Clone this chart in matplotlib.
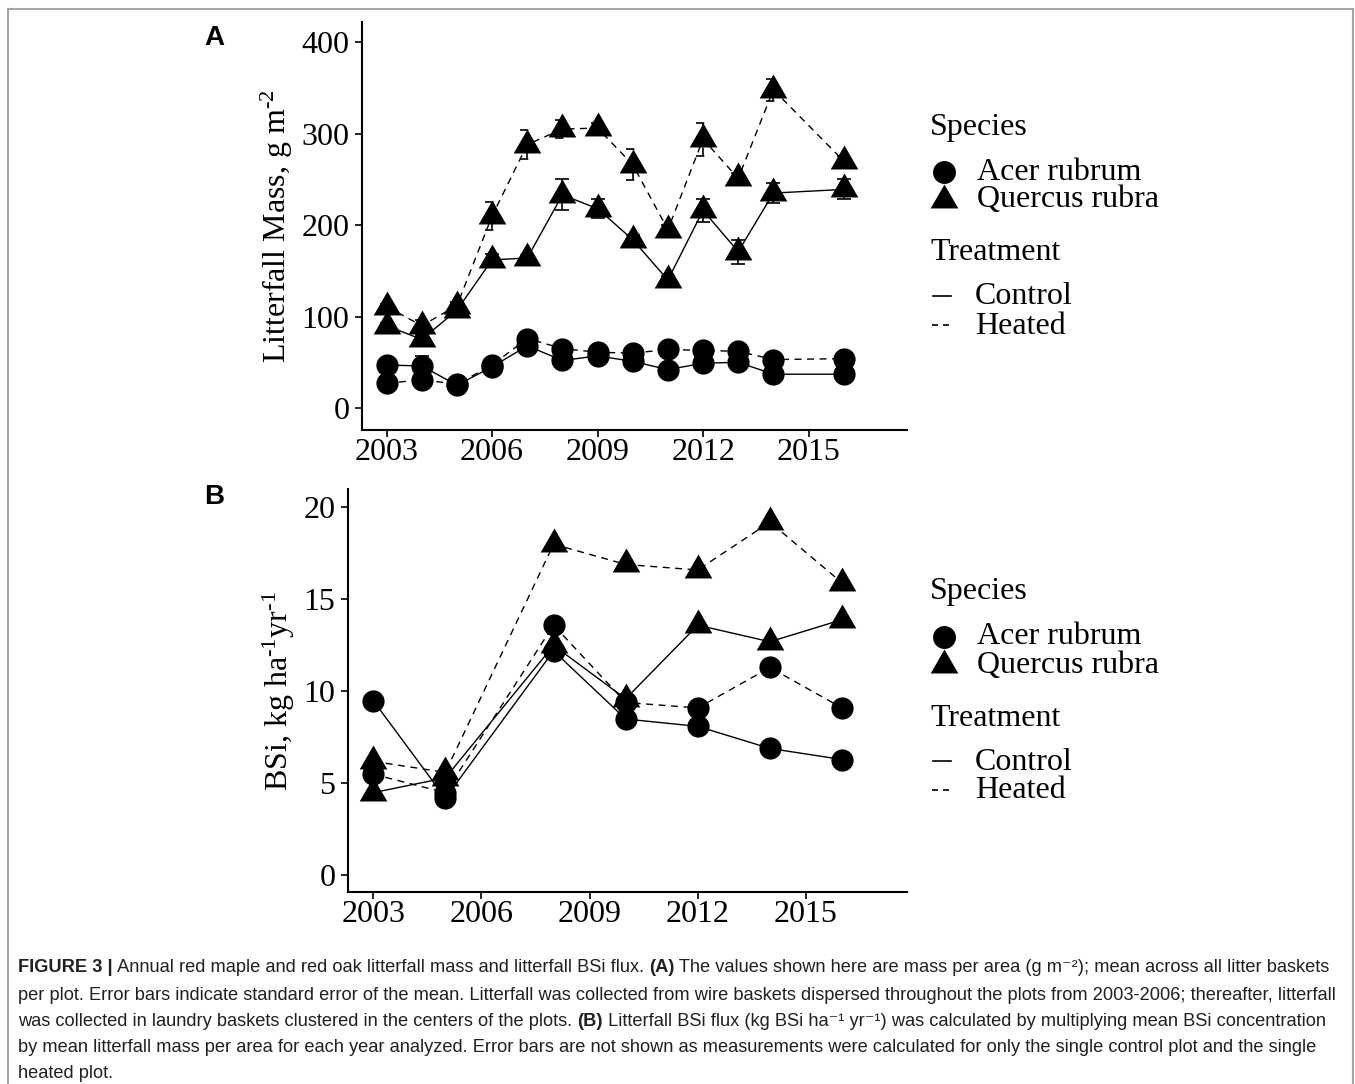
import matplotlib
matplotlib.use("Agg")
import matplotlib.pyplot as plt
from matplotlib.lines import Line2D
import numpy as np

# panel A: litterfall mass (g m-2), mean and standard error
years_a = [2003, 2004, 2005, 2006, 2007, 2008, 2009, 2010, 2011, 2012, 2013, 2014, 2016]
acer_ctrl_a = [47, 46, 25, 45, 68, 52, 57, 51, 42, 49, 50, 37, 37]
acer_ctrl_se = [4, 11, 3, 4, 4, 4, 3, 3, 3, 3, 3, 3, 3]
acer_heat_a = [27, 31, 26, 47, 76, 65, 61, 60, 64, 63, 62, 53, 54]
acer_heat_se = [3, 3, 3, 3, 4, 4, 3, 3, 3, 3, 3, 3, 3]
quer_ctrl_a = [90, 75, 107, 162, 164, 233, 218, 184, 140, 216, 171, 235, 239]
quer_ctrl_se = [3, 5, 4, 6, 3, 17, 10, 5, 4, 13, 13, 11, 11]
quer_heat_a = [111, 90, 112, 210, 288, 305, 306, 266, 195, 294, 251, 348, 270]
quer_heat_se = [3, 6, 4, 15, 16, 10, 6, 17, 5, 18, 6, 12, 5]

# panel B: BSi flux (kg ha-1 yr-1)
years_b = [2003, 2005, 2008, 2010, 2012, 2014, 2016]
acer_ctrl_b = [9.5, 4.2, 12.2, 8.5, 8.1, 6.9, 6.3]
acer_heat_b = [5.5, 4.5, 13.6, 9.4, 9.1, 11.3, 9.1]
quer_ctrl_b = [4.5, 5.3, 12.5, 9.6, 13.6, 12.7, 13.9]
quer_heat_b = [6.2, 5.6, 18.0, 16.9, 16.6, 19.2, 15.9]

xticks = [2003, 2006, 2009, 2012, 2015]
yticks_a = [0, 100, 200, 300, 400]
yticks_b = [0, 5, 10, 15, 20]

plt.rcParams['font.family'] = 'Liberation Serif'
plt.rcParams['mathtext.fontset'] = 'custom'
plt.rcParams['mathtext.rm'] = 'Liberation Serif'
plt.rcParams['mathtext.it'] = 'Liberation Serif:italic'

W, H = 1355, 1084
fig = plt.figure(figsize=(W / 100, H / 100), dpi=100)


def fx(px):
    return px / W


def fy(py):
    return 1 - py / H


DASH = (0, (5, 4))
FS = 23
CIRC = 16
TRI = 23
# equilateral triangle, centred on its centroid (like ggplot shape 17)
TRI_MARK = [(-1, -0.577), (1, -0.577), (0, 1.155), (-1, -0.577)]


def series(ax, x, y, se, marker, ms, dashed):
    ls = DASH if dashed else '-'
    ax.plot(x, y, color='black', lw=1.0, ls=ls, zorder=2)
    ax.plot(x, y, ls='none', marker=marker, ms=ms, color='black',
            markeredgewidth=0, zorder=3)
    if se is not None:
        x = np.array(x, dtype=float)
        y = np.array(y, dtype=float)
        se = np.array(se, dtype=float)
        ax.vlines(x, y - se, y + se, color='black', lw=1.2, linestyles=ls, zorder=4)
        ax.hlines(y + se, x - 0.2, x + 0.2, color='black', lw=1.2, linestyles=ls, zorder=4)
        ax.hlines(y - se, x - 0.2, x + 0.2, color='black', lw=1.2, linestyles=ls, zorder=4)


def style(ax, yticks, ylim):
    ax.set_xlim(2002.3, 2017.8)
    ax.set_ylim(*ylim)
    ax.set_xticks(xticks)
    ax.set_yticks(yticks)
    for s in ['top', 'right']:
        ax.spines[s].set_visible(False)
    for s in ['left', 'bottom']:
        ax.spines[s].set_linewidth(1.5)
    ax.tick_params(labelsize=FS, length=5, width=1.2, colors='black')
    ax.tick_params(axis='x', pad=1)
    ax.tick_params(axis='y', pad=4)


# panel A
ax_a = fig.add_axes([fx(362), fy(430), fx(907) - fx(362), (430 - 22) / H])
series(ax_a, years_a, acer_ctrl_a, acer_ctrl_se, 'o', CIRC, False)
series(ax_a, years_a, acer_heat_a, acer_heat_se, 'o', CIRC, True)
series(ax_a, years_a, quer_ctrl_a, quer_ctrl_se, TRI_MARK, TRI, False)
series(ax_a, years_a, quer_heat_a, quer_heat_se, TRI_MARK, TRI, True)
style(ax_a, yticks_a, (-24, 422))
ax_a.set_ylabel(r'Litterfall Mass, g m$^{\text{-2}}$', fontsize=FS, labelpad=5)

# panel B
ax_b = fig.add_axes([fx(348), fy(892), fx(907) - fx(348), (892 - 489) / H])
series(ax_b, years_b, acer_ctrl_b, None, 'o', CIRC, False)
series(ax_b, years_b, acer_heat_b, None, 'o', CIRC, True)
series(ax_b, years_b, quer_ctrl_b, None, TRI_MARK, TRI, False)
series(ax_b, years_b, quer_heat_b, None, TRI_MARK, TRI, True)
style(ax_b, yticks_b, (-0.9, 21.0))
ax_b.set_ylabel(r'BSi, kg ha$^{\text{-1}}$yr$^{\text{-1}}$', fontsize=FS, labelpad=5)

fig.text(fx(204), fy(38), 'A', family='Liberation Sans', weight='bold', fontsize=20, va='center')
fig.text(fx(204), fy(497), 'B', family='Liberation Sans', weight='bold', fontsize=20, va='center')


# legends
def legend(top):
    fig.text(fx(930), fy(top), 'Species', fontsize=FS, va='center')
    fig.add_artist(Line2D([fx(944)], [fy(top + 45)], marker='o', ms=16.5, color='black',
                          markeredgewidth=0, transform=fig.transFigure))
    fig.add_artist(Line2D([fx(944)], [fy(top + 73)], marker=TRI_MARK, ms=TRI, color='black',
                          markeredgewidth=0, transform=fig.transFigure))
    fig.text(fx(977), fy(top + 45), 'Acer rubrum', fontsize=FS, va='center')
    fig.text(fx(977), fy(top + 73), 'Quercus rubra', fontsize=FS, va='center')
    fig.text(fx(930), fy(top + 126), 'Treatment', fontsize=FS, va='center')
    fig.add_artist(Line2D([fx(933), fx(951)], [fy(top + 169)] * 2, color='black', lw=1.2,
                          transform=fig.transFigure))
    fig.add_artist(Line2D([fx(932), fx(953)], [fy(top + 198)] * 2, color='black', lw=1.2,
                          ls=(0, (3.6, 3)), transform=fig.transFigure))
    fig.text(fx(975), fy(top + 170), 'Control', fontsize=FS, va='center')
    fig.text(fx(975), fy(top + 199), 'Heated', fontsize=FS, va='center')


legend(127)
legend(592)

# frame
frame_kw = dict(color='#a6a6a6', lw=1.5, transform=fig.transFigure)
fig.add_artist(Line2D([fx(8), fx(8)], [0, fy(9)], **frame_kw))
fig.add_artist(Line2D([fx(8), fx(1353)], [fy(9), fy(9)], **frame_kw))
fig.add_artist(Line2D([fx(1353), fx(1353)], [fy(9), 0], **frame_kw))

# caption
cap_lines = [
    [("FIGURE 3 |", True),
     (" Annual red maple and red oak litterfall mass and litterfall BSi flux. ", False),
     ("(A)", True),
     (" The values shown here are mass per area (g m\u207b\u00b2); mean across all litter baskets", False)],
    [("per plot. Error bars indicate standard error of the mean. Litterfall was collected from wire "
      "baskets dispersed throughout the plots from 2003-2006; thereafter, litterfall", False)],
    [("was collected in laundry baskets clustered in the centers of the plots. ", False),
     ("(B)", True),
     (" Litterfall BSi flux (kg BSi ha\u207b\u00b9 yr\u207b\u00b9) was calculated by multiplying "
      "mean BSi concentration", False)],
    [("by mean litterfall mass per area for each year analyzed. Error bars are not shown as "
      "measurements were calculated for only the single control plot and the single", False)],
    [("heated plot.", False)],
]
cap_y = [968, 995, 1021, 1048, 1074]
cap_fam = ['Liberation Sans', 'DejaVu Sans']
renderer = fig.canvas.get_renderer()

# pick a font size so that the second line fills the same width as in the figure
probe = fig.text(0, 0, cap_lines[1][0][0], family=cap_fam, fontsize=12)
w = probe.get_window_extent(renderer).width
probe.remove()
cap_size = 12 * (1340 - 18) / w

for parts, yy in zip(cap_lines, cap_y):
    x = 18
    for txt, bold in parts:
        t = fig.text(fx(x), fy(yy), txt, family=cap_fam, fontsize=cap_size,
                     weight='bold' if bold else 'normal', va='center', color='#231f20')
        x += t.get_window_extent(renderer).width

fig.savefig('out.png', dpi=100)
